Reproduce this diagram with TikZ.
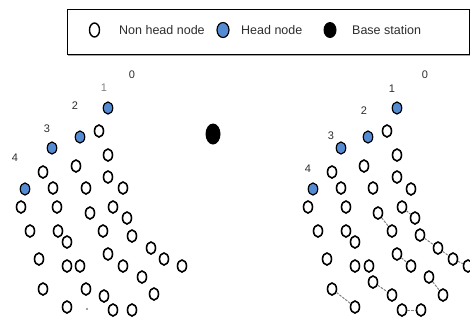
\documentclass[tikz,border=0pt]{standalone}
\usepackage{fontspec}
\setmainfont{Liberation Sans}
\usetikzlibrary{shapes.geometric}
\definecolor{headblue}{RGB}{84,140,212}
\definecolor{labgray}{RGB}{45,45,45}
\begin{document}
\begin{tikzpicture}[x=1pt,y=-1pt,
  wn/.style={ellipse,draw=black,fill=white,line width=1.6pt,minimum width=9pt,minimum height=12pt,inner sep=0pt},
  hn/.style={ellipse,draw=black,fill=headblue,line width=1.2pt,minimum width=9.5pt,minimum height=12pt,inner sep=0pt},
  bs/.style={ellipse,fill=black,minimum width=15pt,minimum height=21pt,inner sep=0pt},
  lab/.style={font=\fontsize{11}{11}\selectfont,text=labgray,inner sep=0pt},
  legtxt/.style={font=\fontsize{12.5}{12.5}\selectfont,text=labgray,anchor=west,inner sep=0pt},
  link/.style={draw=gray,line width=1pt,dash pattern=on 2.5pt off 1.2pt}]
\useasboundingbox (0,0) rectangle (470,322);
% legend
\draw[gray!70,line width=1.2pt] (68,55.5) -- (470,55.5);
\draw[line width=0.9pt] (67,9) rectangle (469,54);
\node[wn,line width=1.4pt,minimum width=10pt,minimum height=14pt] (lw) at (94.5,30) {};
\node[legtxt] (lwt) at (119,30) {Non head node};
\node[hn,minimum width=12pt,minimum height=15pt] (lh) at (223,30) {};
\node[legtxt] (lht) at (241,30) {Head node};
\node[bs,minimum width=13pt,minimum height=16pt] (lb) at (330,30) {};
\node[legtxt] (lbt) at (352,30) {Base station};
% left cluster
\node[lab] (la0) at (132,75) {0};
\node[lab,text=gray] (la1) at (104,88) {1};
\node[lab] (la2) at (75,106) {2};
\node[lab] (la3) at (47,129) {3};
\node[lab] (la4) at (15,158) {4};
\node[hn] (lh1) at (108,108) {};
\node[hn] (lh2) at (80,137) {};
\node[hn] (lh3) at (52,148) {};
\node[hn] (lh4) at (25,189) {};
\node[bs] (base) at (213,134) {};
\foreach \n/\x/\y in {l1/99/131,l2/108/155,l3/76/166,l4/43/172,l5/108/177,l6/53/188,l7/86/188,l8/123/188,
  l9/21/207,l10/57/207,l11/90/213,l12/113/207,l13/127/218,l14/30/231,l15/58/231,l16/67/242,l17/103/231,
  l18/132/236,l19/151/248,l20/39/259,l21/67/266,l22/80/266,l23/108/254,l24/123/266,l25/164/259,
  l26/182/266,l27/142/277,l28/43/289,l29/86/289,l30/104/296,l31/154/294,l32/67/307,l33/113/310,l34/132/310}
  \node[wn] (\n) at (\x,\y) {};
\fill[gray] (87,309) circle (1.2pt) coordinate (ldot);
% right cluster
\node[lab] (ra0) at (425,75) {0};
\node[lab] (ra1) at (392,89) {1};
\node[lab] (ra2) at (364,111) {2};
\node[lab] (ra3) at (331,136) {3};
\node[lab] (ra4) at (308,169) {4};
\node[hn] (rh1) at (397,108) {};
\node[hn] (rh2) at (368,137) {};
\node[hn] (rh3) at (341,148) {};
\node[hn] (rh4) at (313,189) {};
\foreach \n/\x/\y in {r1/387/131,r2/397/155,r3/364/166,r4/332/172,r5/397/177,r6/341/188,r7/373/188,r8/411/189,
  r9/308/207,r10/346/207,r11/378/213,r12/402/207,r13/415/218,r14/318/231,r15/346/231,r16/355/242,r17/392/231,
  r18/420/235,r19/438/248,r20/453/259,r21/468/266,r22/327/259,r23/355/266,r24/369/266,r25/397/254,r26/411/266,
  r27/429/277,r28/373/282,r29/392/295,r30/443/295,r31/332/289,r32/355/307,r33/402/310,r34/421/310}
  \node[wn] (\n) at (\x,\y) {};
\draw[link] (r12) -- (r13);
\draw[link] (r11) -- (r17);
\draw[link] (r18) -- (r19);
\draw[link] (r19) -- (r20);
\draw[link] (r20) -- (r21);
\draw[link] (r25) -- (r26);
\draw[link] (r27) -- (r30);
\draw[link] (r28) -- (r29);
\draw[link] (r31) -- (r32);
\draw[link] (r33) -- (r34);
\end{tikzpicture}
\end{document}
